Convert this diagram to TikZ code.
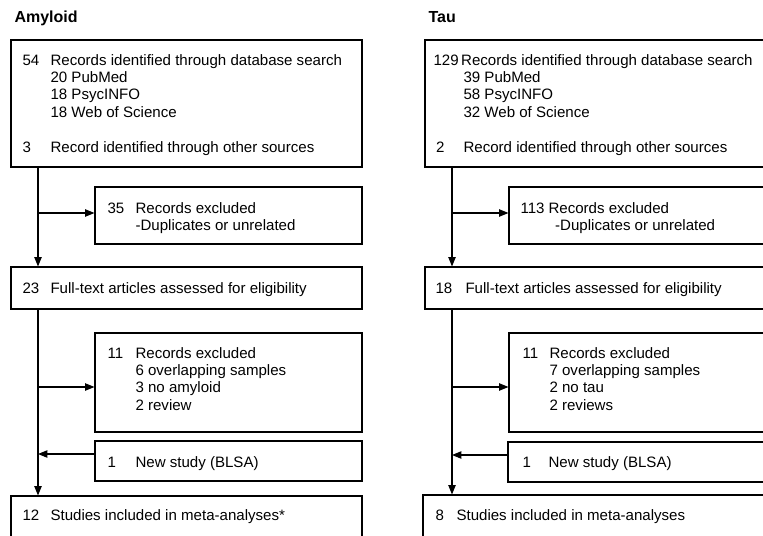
\documentclass[tikz,border=0pt]{standalone}
\usepackage{fontspec}
\setmainfont{Liberation Sans}
\usetikzlibrary{arrows.meta, fit}

\begin{document}
\begin{tikzpicture}[x=0.75pt, y=-0.75pt, line width=0.8pt,
    box/.style={draw, inner sep=0pt},
    txt/.style={anchor=base west, inner sep=0pt, font=\fontsize{11.3}{13.1}\selectfont},
    head/.style={anchor=base west, inner sep=0pt, font=\fontsize{12}{14}\selectfont\bfseries},
    arr/.style={-{Triangle[length=7pt, width=5.5pt]}}]
    \useasboundingbox (0,0) rectangle (763,535);
    \clip (0,0) rectangle (763,535);

    % Amyloid
    \node[head] (headA) at (14,23) {Amyloid};

    \node[box, fit={(11,40) (362,167)}] (srcA) {};
    \node[txt] (srcAtxt) at (22,65) {\begin{tabular}[t]{@{}p{21pt}@{}l@{}}
        54 & Records identified through database search\\
           & 20 PubMed\\
           & 18 PsycINFO\\
           & 18 Web of Science\\
           & \\
        3  & Record identified through other sources
    \end{tabular}};

    \node[box, fit={(95,187) (362,244)}] (exclA) {};
    \node[txt] (exclAtxt) at (107,213) {\begin{tabular}[t]{@{}p{21pt}@{}l@{}}
        35 & Records excluded\\
           & -Duplicates or unrelated
    \end{tabular}};

    \node[box, fit={(11,267) (362,309)}] (fullA) {};
    \node[txt] (fullAtxt) at (22,293) {\begin{tabular}[t]{@{}p{21pt}@{}l@{}}
        23 & Full-text articles assessed for eligibility
    \end{tabular}};

    \node[box, fit={(95,333) (362,432)}] (revA) {};
    \node[txt] (revAtxt) at (107,358) {\begin{tabular}[t]{@{}p{21pt}@{}l@{}}
        11 & Records excluded\\
           & 6 overlapping samples\\
           & 3 no amyloid\\
           & 2 review
    \end{tabular}};

    \node[box, fit={(95,441) (362,481)}] (newA) {};
    \node[txt] (newAtxt) at (107,467) {\begin{tabular}[t]{@{}p{21pt}@{}l@{}}
        1 & New study (BLSA)
    \end{tabular}};

    \node[box, fit={(11,496) (362,560)}] (finalA) {};
    \node[txt] (finalAtxt) at (22,520) {\begin{tabular}[t]{@{}p{21pt}@{}l@{}}
        12 & Studies included in meta-analyses*
    \end{tabular}};

    \coordinate (jA1) at (38,213);
    \coordinate (jA2) at (38,387);
    \coordinate (jA3) at (38,454);
    \draw[arr] (jA1 |- srcA.south) -- (jA1 |- fullA.north);
    \draw[arr] (jA1) -- (exclA.west |- jA1);
    \draw[arr] (jA1 |- fullA.south) -- (jA1 |- finalA.north);
    \draw[arr] (jA2) -- (revA.west |- jA2);
    \draw[arr] (newA.west |- jA3) -- (jA3);

    % Tau
    \node[head] (headT) at (428,23) {Tau};

    \node[box, fit={(425,40) (776,167)}] (srcT) {};
    \node[txt] (srcTtxt) at (433,65) {\begin{tabular}[t]{@{}p{22.5pt}@{}l@{}}
        \multicolumn{2}{@{}l@{}}{129\,Records identified through database search}\\
           & 39 PubMed\\
           & 58 PsycINFO\\
           & 32 Web of Science\\
           & \\
        \hspace{2pt}2 & Record identified through other sources
    \end{tabular}};

    \node[box, fit={(509,187) (776,244)}] (exclT) {};
    \node[txt] (exclTtxt) at (520,213) {\begin{tabular}[t]{@{}p{21pt}@{}l@{}}
        113 & Records excluded\\
            & \hspace{5pt}-Duplicates or unrelated
    \end{tabular}};

    \node[box, fit={(425,267) (776,309)}] (fullT) {};
    \node[txt] (fullTtxt) at (435,293) {\begin{tabular}[t]{@{}p{22.5pt}@{}l@{}}
        18 & Full-text articles assessed for eligibility
    \end{tabular}};

    \node[box, fit={(509,333) (776,432)}] (revT) {};
    \node[txt] (revTtxt) at (522,358) {\begin{tabular}[t]{@{}p{20.25pt}@{}l@{}}
        11 & Records excluded\\
           & 7 overlapping samples\\
           & 2 no tau\\
           & 2 reviews
    \end{tabular}};

    \node[box, fit={(508,442) (776,482)}] (newT) {};
    \node[txt] (newTtxt) at (522,467) {\begin{tabular}[t]{@{}p{19.5pt}@{}l@{}}
        1 & New study (BLSA)
    \end{tabular}};

    \node[box, fit={(423,495) (776,560)}] (finalT) {};
    \node[txt] (finalTtxt) at (435,520) {\begin{tabular}[t]{@{}p{15.75pt}@{}l@{}}
        8 & Studies included in meta-analyses
    \end{tabular}};

    \coordinate (jT1) at (452,213);
    \coordinate (jT2) at (452,387);
    \coordinate (jT3) at (452,455);
    \draw[arr] (jT1 |- srcT.south) -- (jT1 |- fullT.north);
    \draw[arr] (jT1) -- (exclT.west |- jT1);
    \draw[arr] (jT1 |- fullT.south) -- (jT1 |- finalT.north);
    \draw[arr] (jT2) -- (revT.west |- jT2);
    \draw[arr] (newT.west |- jT3) -- (jT3);
\end{tikzpicture}
\end{document}
